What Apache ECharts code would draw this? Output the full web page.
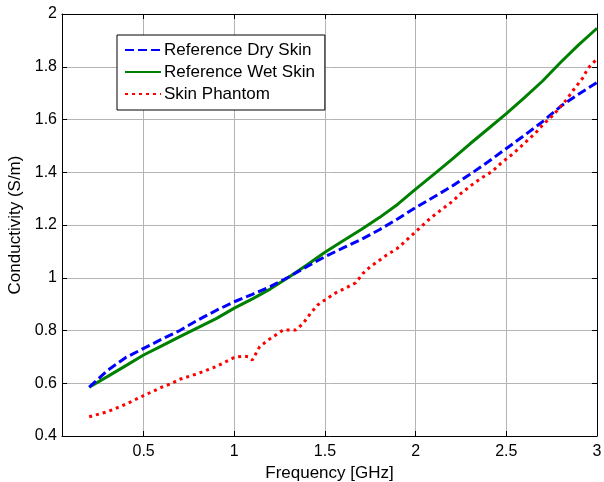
<!DOCTYPE html>
<html>
<head>
<meta charset="utf-8">
<script src="https://cdn.jsdelivr.net/npm/echarts@6/dist/echarts.min.js"></script>
<style>html,body{margin:0;padding:0;background:#fff;}#c{width:604px;height:482px;}</style>
</head>
<body>
<div id="c"></div>
<script>
var xTicks = [0.5, 1, 1.5, 2, 2.5, 3];
var refFreq = [0.2,0.3,0.4,0.5,0.6,0.7,0.8,0.9,1.0,1.1,1.2,1.3,1.4,1.5,1.6,1.7,1.8,1.9,2.0,2.1,2.2,2.3,2.4,2.5,2.6,2.7,2.8,2.9,3.0];
var drySkin = [0.585,0.648,0.697,0.732,0.767,0.800,0.840,0.876,0.909,0.937,0.967,1.003,1.042,1.080,1.113,1.145,1.182,1.223,1.266,1.306,1.347,1.392,1.440,1.490,1.540,1.592,1.650,1.697,1.740];
var wetSkin = [0.585,0.625,0.666,0.707,0.742,0.777,0.811,0.845,0.885,0.920,0.958,1.002,1.048,1.097,1.140,1.183,1.228,1.278,1.336,1.392,1.449,1.508,1.565,1.622,1.683,1.746,1.817,1.884,1.946];
var phantomFreq = [0.2,0.3,0.4,0.5,0.6,0.65,0.7,0.8,0.9,1.0,1.05,1.08,1.1,1.14,1.2,1.27,1.34,1.38,1.42,1.46,1.5,1.56,1.62,1.67,1.71,1.75,1.79,1.84,1.9,1.95,2.02,2.08,2.14,2.2,2.25,2.31,2.36,2.42,2.47,2.54,2.6,2.66,2.7,2.75,2.8,2.83,2.87,2.92,2.95,3.0];
var phantom = [0.473,0.492,0.520,0.553,0.585,0.598,0.615,0.637,0.663,0.698,0.703,0.700,0.688,0.739,0.770,0.802,0.802,0.827,0.865,0.897,0.916,0.943,0.963,0.981,1.017,1.042,1.061,1.086,1.112,1.143,1.187,1.225,1.257,1.288,1.320,1.352,1.377,1.402,1.434,1.472,1.510,1.548,1.579,1.611,1.649,1.674,1.712,1.756,1.794,1.83];

function zip(a, b) { return a.map(function (v, i) { return [v, b[i]]; }); }

var FONT = 'Liberation Sans, Arial, sans-serif';
var chart = echarts.init(document.getElementById('c'));
var gridLine = { show: true, lineStyle: { color: '#b4b4b4', width: 1, type: 'solid' } };
var axLine = { show: true, onZero: false, lineStyle: { color: '#000', width: 1 } };
chart.setOption({
  animation: false,
  backgroundColor: '#fff',
  textStyle: { fontFamily: FONT },
  grid: { left: 62, top: 14, right: 7, bottom: 46, containLabel: false, outerBoundsMode: 'none' },
  legend: {
    left: 117, top: 35, orient: 'vertical',
    padding: [4, 10, 5, 7],
    itemWidth: 36, itemHeight: 14, itemGap: 0,
    borderColor: '#000', borderWidth: 1, backgroundColor: '#fff',
    itemStyle: { opacity: 0 },
    textStyle: { fontFamily: FONT, fontSize: 17, color: '#000', lineHeight: 22, padding: [0, 0, 0, -2] },
    data: ['Reference Dry Skin', 'Reference Wet Skin', 'Skin Phantom']
  },
  xAxis: [{
    type: 'value', min: 0.05, max: 3, position: 'bottom',
    name: 'Frequency [GHz]', nameLocation: 'middle', nameGap: 22,
    nameTextStyle: { fontFamily: FONT, fontSize: 17, color: '#000' },
    axisLine: axLine,
    axisTick: { show: true, inside: true, length: 5, customValues: xTicks, lineStyle: { color: '#000' } },
    axisLabel: { show: true, customValues: xTicks, margin: 8, fontFamily: FONT, fontSize: 16, color: '#000' },
    splitLine: gridLine
  }, {
    type: 'value', min: 0.05, max: 3, position: 'top',
    axisLine: axLine,
    axisTick: { show: true, inside: true, length: 5, customValues: xTicks, lineStyle: { color: '#000' } },
    axisLabel: { show: false },
    splitLine: { show: false }
  }],
  yAxis: [{
    type: 'value', min: 0.4, max: 2, interval: 0.2, position: 'left',
    name: 'Conductivity (S/m)', nameLocation: 'middle', nameGap: 33,
    nameTextStyle: { fontFamily: FONT, fontSize: 17, color: '#000' },
    axisLine: axLine,
    axisTick: { show: true, inside: true, length: 5, lineStyle: { color: '#000' } },
    axisLabel: { margin: 5, fontFamily: FONT, fontSize: 16, color: '#000' },
    splitLine: gridLine
  }, {
    type: 'value', min: 0.4, max: 2, interval: 0.2, position: 'right',
    axisLine: axLine,
    axisTick: { show: true, inside: true, length: 5, lineStyle: { color: '#000' } },
    axisLabel: { show: false },
    splitLine: { show: false }
  }],
  series: [{
    name: 'Reference Dry Skin', type: 'line', xAxisIndex: 0, yAxisIndex: 0,
    data: zip(refFreq, drySkin), showSymbol: false, symbol: 'none', smooth: false, z: 4,
    lineStyle: { color: '#0000ff', width: 3, type: [9, 4] }, itemStyle: { color: '#0000ff' }
  }, {
    name: 'Reference Wet Skin', type: 'line', xAxisIndex: 0, yAxisIndex: 0,
    data: zip(refFreq, wetSkin), showSymbol: false, symbol: 'none', smooth: false, z: 3,
    lineStyle: { color: '#008000', width: 3, type: 'solid' }, itemStyle: { color: '#008000' }
  }, {
    name: 'Skin Phantom', type: 'line', xAxisIndex: 0, yAxisIndex: 0,
    data: zip(phantomFreq, phantom), showSymbol: false, symbol: 'none', smooth: false, z: 5,
    lineStyle: { color: '#ff0000', width: 3, type: [3, 4] }, itemStyle: { color: '#ff0000' }
  }]
});
</script>
</body>
</html>
